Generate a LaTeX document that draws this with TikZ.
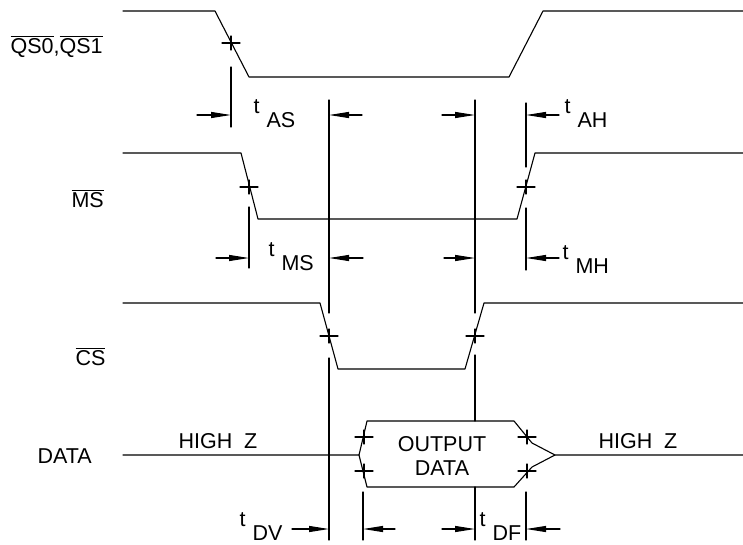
\documentclass[tikz,border=0pt]{standalone}
\usepackage{fontspec}
\setmainfont{Liberation Sans}
\usetikzlibrary{arrows.meta}
\newcommand{\ovl}[1]{$\overline{\hbox{#1}}$}
\newcommand{\tsub}[1]{\raisebox{14pt}{t}\hspace{7pt}#1}
\begin{document}
\begin{tikzpicture}[line join=round, line cap=round, >={Triangle[length=20pt,width=6pt]}, x=1pt, y=-1pt, line width=1.1pt,
    every node/.style={font=\fontsize{21.5}{24}\selectfont, inner sep=0pt}]
    \useasboundingbox (0,0) rectangle (743,544);
    % signals
    \draw (123,11)--(215,11)--(249,77)--(509,77)--(543,11)--(743,11);
    \draw (123,153)--(241,153)--(258,219)--(517,219)--(535,153)--(743,153);
    \draw (123,303)--(320,303)--(338,369)--(465,369)--(484,303)--(743,303);
    \draw (123,455)--(359,455)--(367,421)--(514,421)--(532,443)--(555,455)--(743,455);
    \draw (359,455)--(367,487)--(514,487)--(532,467)--(555,455);
    % signal names
    \node[anchor=base west] (qs) at (10,53) {\ovl{QS0},\ovl{QS1}};
    \node[anchor=base west] (ms) at (71,207) {\ovl{MS}};
    \node[anchor=base west] (cs) at (75,365) {\ovl{CS}};
    \node[anchor=base west] (data) at (37,463) {DATA};
    \node[anchor=base west] (hzl) at (178,448) {HIGH~~Z};
    \node[anchor=base west] (hzr) at (598,448) {HIGH~~Z};
    \node[align=center] (out) at (442,456) {OUTPUT\\DATA};
    % extension lines
    \foreach \x/\ya/\yb in {231/67/127,329/100/313,329/358/540,475/100/313,475/355/421,475/487/540,
        249/207/268,526/103/167,526/208/270,363/492/540,526/492/540}
    \draw (\x,\ya)--(\x,\yb);
    % crossings
    \foreach \x/\y in {231/43,249/187,526/187,329/336,475/336,364/437,364/471,527/437,527/471}
    \draw (\x-9,\y)--(\x+9,\y) (\x,\y-7)--(\x,\y+7);
    % timing arrows
    \foreach \xa/\xb/\y in {197/231/115,362/329/115,442/475/115,559/526/115,
        216/249/258,363/329/258,444/475/258,559/526/258,
        292/329/529,395/363/529,442/475/529,560/526/529}
    \draw[->] (\xa,\y)--(\xb,\y);
    % timing names
    \node[anchor=base west] (tas) at (253,127) {\tsub{AS}};
    \node[anchor=base west] (tms) at (268,270) {\tsub{MS}};
    \node[anchor=base west] (tah) at (564,127) {\tsub{AH}};
    \node[anchor=base west] (tmh) at (562,273) {\tsub{MH}};
    \node[anchor=base west] (tdv) at (239,540) {\tsub{DV}};
    \node[anchor=base west] (tdf) at (479,540) {\tsub{DF}};
\end{tikzpicture}
\end{document}
